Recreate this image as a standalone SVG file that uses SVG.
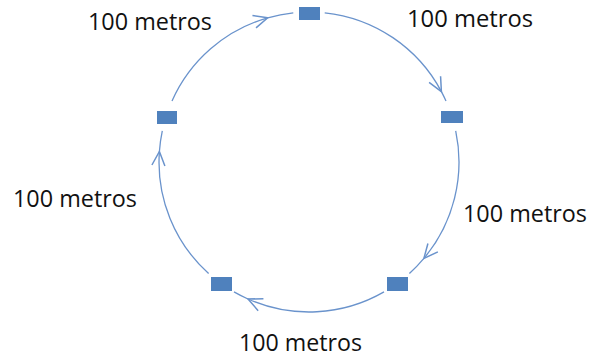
<svg xmlns="http://www.w3.org/2000/svg" width="592" height="359" viewBox="0 0 592 359">
<style>
.node{fill:#4F81BD}
.arc{fill:none;stroke:#6A93CC;stroke-width:1.3}
.lbl{font-family:"Open Sans","Liberation Sans",sans-serif;font-size:23.5px;fill:#111}
</style>
<defs>
<marker id="arr" markerUnits="userSpaceOnUse" markerWidth="34" markerHeight="34" viewBox="-17 -17 34 34" refX="0" refY="0" orient="auto" overflow="visible">
<path d="M-14,-6.5 L0,0 L-14,6.5" fill="none" stroke="#6A93CC" stroke-width="1.5"/>
</marker>
</defs>
<rect width="592" height="359" fill="#fff"/>
<g id="connectors">
<path class="arc" d="M324.7,12.8 A150,150 0 0 1 441.4,91.6" marker-end="url(#arr)"/>
<path class="arc" d="M441.4,91.6 A150,150 0 0 1 446.0,101.0"/>
<path class="arc" d="M455.7,130.8 A150,150 0 0 1 423.9,258.4" marker-end="url(#arr)"/>
<path class="arc" d="M423.9,258.4 A150,150 0 0 1 409.4,273.5"/>
<path class="arc" d="M384.0,291.9 A150,150 0 0 1 248.0,299.0" marker-end="url(#arr)"/>
<path class="arc" d="M248.0,299.0 A150,150 0 0 1 234.0,291.9"/>
<path class="arc" d="M208.6,273.5 A150,150 0 0 1 159.4,151.5" marker-end="url(#arr)"/>
<path class="arc" d="M159.4,151.5 A150,150 0 0 1 162.3,130.8"/>
<path class="arc" d="M172.0,101.0 A150,150 0 0 1 267.7,17.8" marker-end="url(#arr)"/>
<path class="arc" d="M267.7,17.8 A150,150 0 0 1 293.3,12.8"/>
</g>
<g id="node-top"><rect class="node" x="299" y="7" width="21" height="13"/></g>
<g id="node-right"><rect class="node" x="441" y="111" width="22" height="12"/></g>
<g id="node-bottom-right"><rect class="node" x="387" y="277" width="21" height="14"/></g>
<g id="node-bottom-left"><rect class="node" x="211" y="277" width="21" height="14"/></g>
<g id="node-left"><rect class="node" x="157" y="111" width="20" height="13"/></g>
<g id="labels">
<text class="lbl" x="88" y="30" textLength="124" lengthAdjust="spacingAndGlyphs">100 metros</text>
<text class="lbl" x="407" y="27" textLength="126" lengthAdjust="spacingAndGlyphs">100 metros</text>
<text class="lbl" x="463" y="222" textLength="124" lengthAdjust="spacingAndGlyphs">100 metros</text>
<text class="lbl" x="239" y="351" textLength="123" lengthAdjust="spacingAndGlyphs">100 metros</text>
<text class="lbl" x="13" y="207" textLength="124" lengthAdjust="spacingAndGlyphs">100 metros</text>
</g>
</svg>
